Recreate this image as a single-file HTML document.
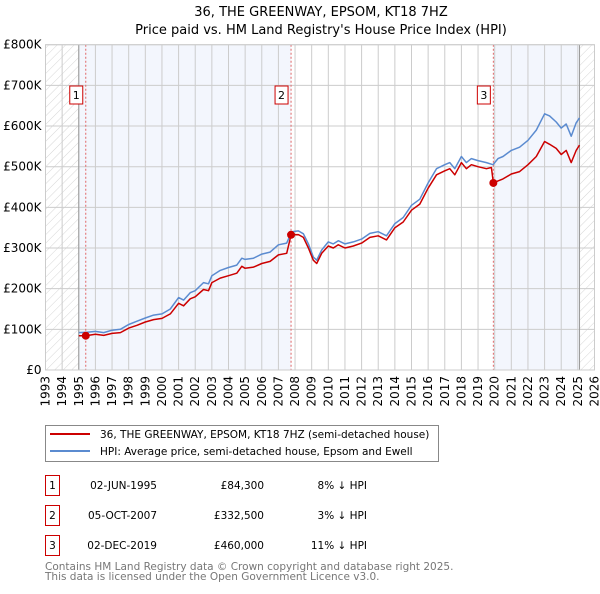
<!DOCTYPE html>
<html><head><meta charset="utf-8"><style>
body{margin:0;background:#fff;font-family:"DejaVu Sans","Liberation Sans",sans-serif}
svg text{font-family:"DejaVu Sans","Liberation Sans",sans-serif}
</style></head><body>
<svg id="c" width="600" height="590" viewBox="0 0 600 590" xmlns="http://www.w3.org/2000/svg">
<defs><pattern id="hatch" patternUnits="userSpaceOnUse" width="6" height="6" patternTransform="rotate(45)"><line x1="0" y1="0" x2="0" y2="6" stroke="#ccc" stroke-width="0.8"/></pattern></defs>
<text x="321" y="16" text-anchor="middle" font-size="13">36, THE GREENWAY, EPSOM, KT18 7HZ</text>
<text x="321" y="34" text-anchor="middle" font-size="13">Price paid vs. HM Land Registry's House Price Index (HPI)</text>
<g id="plot"></g>
<g>
<rect x="45.5" y="425.5" width="393" height="36" fill="#fff" stroke="#888"/>
<line x1="50" y1="434" x2="90" y2="434" stroke="#cc0000" stroke-width="2"/>
<text x="100" y="438" font-size="10.5">36, THE GREENWAY, EPSOM, KT18 7HZ (semi-detached house)</text>
<line x1="50" y1="451" x2="90" y2="451" stroke="#5b8bd0" stroke-width="2"/>
<text x="100" y="455" font-size="10.5">HPI: Average price, semi-detached house, Epsom and Ewell</text>
</g>
<g id="tbl" font-size="10.5"></g>
<text x="45" y="570" font-size="10.5" fill="#777">Contains HM Land Registry data © Crown copyright and database right 2025.</text>
<text x="45" y="580" font-size="10.5" fill="#777">This data is licensed under the Open Government Licence v3.0.</text>
</svg>
<script>
const hpiYears=[1995.0,1995.5,1996,1996.5,1997,1997.5,1998,1998.5,1999,1999.5,2000,2000.5,2001,2001.3,2001.7,2002,2002.5,2002.8,2003,2003.5,2004,2004.5,2004.8,2005,2005.5,2006,2006.5,2007,2007.5,2007.8,2008.2,2008.5,2008.8,2009.1,2009.3,2009.6,2010,2010.3,2010.6,2011,2011.5,2012,2012.5,2013,2013.5,2014,2014.5,2015,2015.5,2016,2016.5,2017,2017.3,2017.6,2018,2018.3,2018.6,2019,2019.5,2019.9,2020.2,2020.5,2021,2021.5,2022,2022.5,2023,2023.3,2023.7,2024,2024.3,2024.6,2024.9,2025.1];
const hpiValues=[92,93,95,92,98,100,112,120,128,135,138,150,178,172,190,195,215,212,232,245,252,258,275,272,275,285,290,308,312,340,342,335,310,278,270,295,315,310,318,310,315,322,336,340,330,360,375,405,420,460,495,505,510,495,525,510,520,515,510,505,520,525,540,548,565,590,630,625,610,595,605,575,608,620];
const propYears=[1995.0,1995.42,1996,1996.5,1997,1997.5,1998,1998.5,1999,1999.5,2000,2000.5,2001,2001.3,2001.7,2002,2002.5,2002.8,2003,2003.5,2004,2004.5,2004.8,2005,2005.5,2006,2006.5,2007,2007.5,2007.76,2008.2,2008.5,2008.8,2009.1,2009.3,2009.6,2010,2010.3,2010.6,2011,2011.5,2012,2012.5,2013,2013.5,2014,2014.5,2015,2015.5,2016,2016.5,2017,2017.3,2017.6,2018,2018.3,2018.6,2019,2019.5,2019.8,2019.92,2020.2,2020.5,2021,2021.5,2022,2022.5,2023,2023.3,2023.7,2024,2024.3,2024.6,2024.9,2025.1];
const propValues=[84,84.3,88,85,90,92,103,110,118,124,127,138,164,158,175,180,198,195,215,226,232,238,255,250,253,262,267,283,287,332.5,333,326,300,270,262,287,305,300,308,300,305,312,326,330,320,350,364,393,408,447,480,490,495,480,510,495,505,500,495,498,460,465,470,482,488,505,525,562,555,545,530,540,510,540,553];
const saleLabels=["1","2","3"];
const saleYears=[1995.42,2007.76,2019.92];
const salePrices=[84.3,332.5,460];
const saleDates=["02-JUN-1995","05-OCT-2007","02-DEC-2019"];
const salePriceText=["£84,300","£332,500","£460,000"];
const salePct=["8% ↓ HPI","3% ↓ HPI","11% ↓ HPI"];
const yTicks=[0,100,200,300,400,500,600,700,800];
const yTickLabels=["£0","£100K","£200K","£300K","£400K","£500K","£600K","£700K","£800K"];
const xTicks=[1993,1994,1995,1996,1997,1998,1999,2000,2001,2002,2003,2004,2005,2006,2007,2008,2009,2010,2011,2012,2013,2014,2015,2016,2017,2018,2019,2020,2021,2022,2023,2024,2025,2026];
const dataStart=1995.0, dataEnd=2025.1;

const X0=45.5,X1=594.5,Y0=370,Y1=44.7,xmin=1993,xmax=2026,ymax=800;
const xs=v=>X0+(v-xmin)/(xmax-xmin)*(X1-X0);
const ys=v=>Y0-(v/ymax)*(Y0-Y1);
const NS="http://www.w3.org/2000/svg";
const plot=document.getElementById('plot');
function mk(tag,attrs,parent){const e=document.createElementNS(NS,tag);for(const k in attrs)e.setAttribute(k,attrs[k]);(parent||plot).appendChild(e);return e;}

let r;
r=mk('rect',{x:xs(dataStart),y:Y1,width:xs(saleYears[1])-xs(dataStart),height:Y0-Y1,fill:'#f3f6fd'});


r=mk('rect',{x:xs(saleYears[2]),y:Y1,width:xs(dataEnd)-xs(saleYears[2]),height:Y0-Y1,fill:'#f3f6fd'});


r=mk('rect',{x:X0,y:Y1,width:xs(dataStart)-X0,height:Y0-Y1,fill:'url(#hatch)'});


r=mk('rect',{x:xs(dataEnd),y:Y1,width:X1-xs(dataEnd),height:Y0-Y1,fill:'url(#hatch)'});



yTicks.forEach((t,i)=>{
  const g=mk('line',{x1:X0,x2:X1,y1:ys(t),y2:ys(t),stroke:'#ccc','stroke-width':1});
  
  
  const tx=mk('text',{x:X0-4,y:ys(t)+4,'text-anchor':'end','font-size':12});
  tx.textContent=yTickLabels[i];
  
  
});
xTicks.forEach(t=>{
  const g=mk('line',{x1:xs(t),x2:xs(t),y1:Y1,y2:Y0,stroke:'#ccc','stroke-width':1});
  
  
  const tx=mk('text',{x:0,y:0,'font-size':12,'text-anchor':'end',transform:`translate(${xs(t)+4},${Y0+6}) rotate(-90)`});
  tx.textContent=t;
  
  
});
[dataStart,dataEnd].forEach(v=>{
  const l=mk('line',{x1:xs(v),x2:xs(v),y1:Y1,y2:Y0,stroke:'#999','stroke-width':1});
  
  
});
saleYears.forEach((v,i)=>{
  const l=mk('line',{x1:xs(v),x2:xs(v),y1:Y1,y2:Y0,stroke:'#e06666','stroke-width':1,'stroke-dasharray':'2,2'});
  
  
});
const path=(xa,va)=>xa.map((x,i)=>(i?'L':'M')+xs(x).toFixed(1)+','+ys(va[i]).toFixed(1)).join('');
let p=mk('path',{d:path(hpiYears,hpiValues),fill:'none',stroke:'#5b8bd0','stroke-width':1.5,'stroke-linejoin':'round'});


p=mk('path',{d:path(propYears,propValues),fill:'none',stroke:'#cc0000','stroke-width':1.5,'stroke-linejoin':'round'});


saleYears.forEach((v,i)=>{
  const c=mk('circle',{cx:xs(v),cy:ys(salePrices[i]),r:4,fill:'#cc0000'});
  
  
  const b=mk('rect',{x:xs(v)-16,y:86,width:13,height:18,fill:'#fff',stroke:'#cc0000','stroke-width':1});
  
  
  const t=mk('text',{x:xs(v)-9.5,y:99,'text-anchor':'middle','font-size':11});
  t.textContent=saleLabels[i];
  
  
});
const ax=mk('rect',{x:X0,y:Y1,width:X1-X0,height:Y0-Y1,fill:'none',stroke:'#ccc'});



const tbl=document.getElementById('tbl');
saleLabels.forEach((s,i)=>{
  const y=475+i*30;
  const b=mk('rect',{x:45.5,y:y+0.5,width:14,height:20,fill:'#fff',stroke:'#cc0000'},tbl);
  
  
  const t0=mk('text',{x:52.5,y:y+14,'text-anchor':'middle'},tbl);t0.textContent=s;
  
  
  const t1=mk('text',{x:157,y:y+14,'text-anchor':'end'},tbl);t1.textContent=saleDates[i];
  
  
  const t2=mk('text',{x:264,y:y+14,'text-anchor':'end'},tbl);t2.textContent=salePriceText[i];
  
  
  const t3=mk('text',{x:367,y:y+14,'text-anchor':'end'},tbl);t3.textContent=salePct[i];
  
  
});
</script>
</body></html>
